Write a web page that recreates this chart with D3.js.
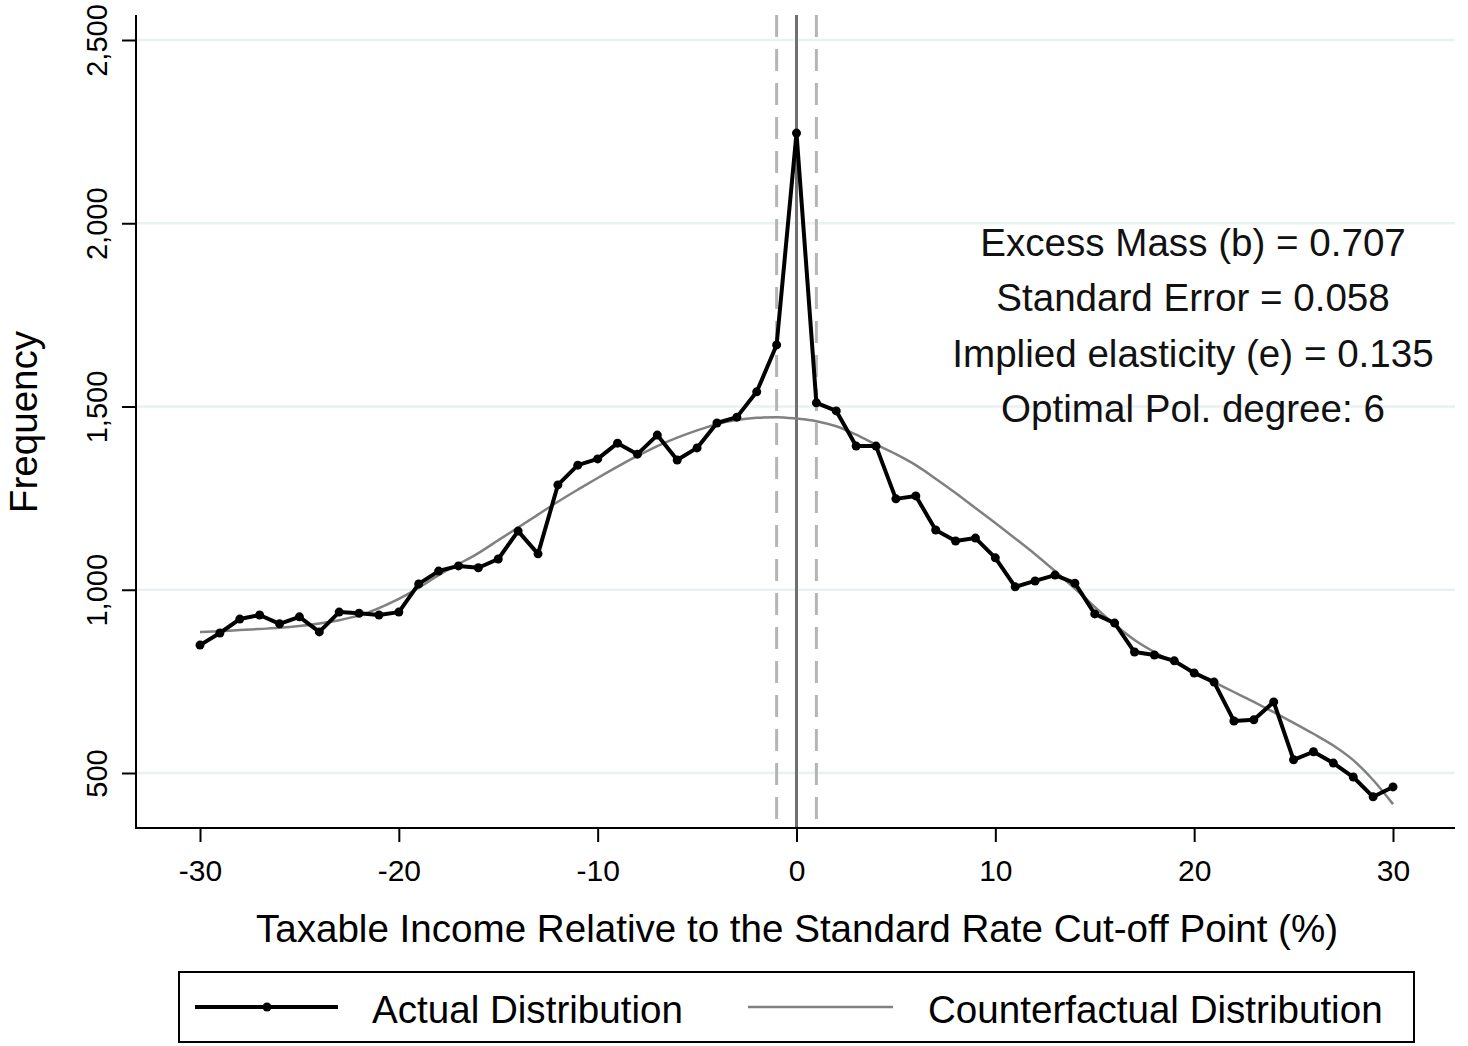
<!DOCTYPE html>
<html>
<head>
<meta charset="utf-8">
<script src="https://cdn.jsdelivr.net/npm/d3@7"></script>
<style>
	body { margin: 0; background: #fff; }
	svg { display: block; font-family: 'Liberation Sans', Arial, sans-serif; }
</style>
</head>
<body>
<svg width="1468" height="1046"></svg>
<script>
// bins, % distance from the standard rate cut-off point
let bins = [-30, -29, -28, -27, -26, -25, -24, -23, -22, -21, -20, -19, -18, -17, -16, -15,
	-14, -13, -12, -11, -10, -9, -8, -7, -6, -5, -4, -3, -2, -1, 0, 1, 2, 3, 4, 5, 6, 7, 8, 9,
	10, 11, 12, 13, 14, 15, 16, 17, 18, 19, 20, 21, 22, 23, 24, 25, 26, 27, 28, 29, 30]

let actual = [849, 882, 920, 931, 907, 926, 885, 939, 936, 931, 939, 1016, 1051, 1065, 1060, 1084,
	1160, 1098, 1286, 1340, 1357, 1400, 1370, 1422, 1354, 1387, 1455, 1471, 1540, 1668, 2246,
	1510, 1488, 1392, 1392, 1248, 1256, 1163, 1133, 1141, 1087, 1008, 1024, 1040, 1018, 934,
	909, 830, 822, 806, 773, 748, 642, 645, 694, 536, 558, 527, 489, 435, 462]

let counterfactual = [885, 887, 890, 893, 896, 901, 908, 917, 930, 950, 975, 1005, 1040, 1070, 1100, 1135,
	1170, 1205, 1240, 1273, 1305, 1336, 1365, 1392, 1415, 1435, 1452, 1463, 1469, 1471, 1467,
	1460, 1446, 1423, 1396, 1370, 1340, 1303, 1264, 1223, 1182, 1140, 1097, 1051, 1003, 953,
	905, 863, 830, 802, 776, 748, 721, 694, 666, 637, 607, 575, 535, 481, 415]

let xTicks = [-30, -20, -10, 0, 10, 20, 30]
let yTicks = [500, 1000, 1500, 2000, 2500]
let bandLines = [-1, 1]
let notes = ['Excess Mass (b) = 0.707', 'Standard Error = 0.058',
	'Implied elasticity (e) = 0.135', 'Optimal Pol. degree: 6']
let legendLabels = ['Actual Distribution', 'Counterfactual Distribution']

let plot = { left: 136, right: 1455, top: 15, bottom: 828 }
let bigFont = 38.6

let svg = d3.select('svg')
let x = d3.scaleLinear().domain([-30, 30]).range([200, 1393])
let y = d3.scaleLinear().domain([500, 2500]).range([773, 40])

// grid
svg.append('g')
	.selectAll('line')
	.data(yTicks)
	.join('line')
	.attr('x1', plot.left)
	.attr('x2', plot.right)
	.attr('y1', d => y(d))
	.attr('y2', d => y(d))
	.attr('stroke', '#e9f1f2')
	.attr('stroke-width', 2.5)

// cut-off and excluded band
svg.append('line')
	.attr('x1', x(0)).attr('x2', x(0))
	.attr('y1', plot.top).attr('y2', plot.bottom)
	.attr('stroke', '#707070')
	.attr('stroke-width', 3)

svg.append('g')
	.selectAll('line')
	.data(bandLines)
	.join('line')
	.attr('x1', d => x(d))
	.attr('x2', d => x(d))
	.attr('y1', plot.top)
	.attr('y2', plot.bottom)
	.attr('stroke', '#b5b5b5')
	.attr('stroke-width', 3)
	.attr('stroke-dasharray', '22,12')

let rows = bins.map((b, i) => ({ b: b, a: actual[i], c: counterfactual[i] }))

svg.append('path')
	.datum(rows)
	.attr('fill', 'none')
	.attr('stroke', '#808080')
	.attr('stroke-width', 2.5)
	.attr('d', d3.line().x(d => x(d.b)).y(d => y(d.c)).curve(d3.curveMonotoneX))

svg.append('path')
	.datum(rows)
	.attr('fill', 'none')
	.attr('stroke', '#000')
	.attr('stroke-width', 4)
	.attr('stroke-linejoin', 'round')
	.attr('d', d3.line().x(d => x(d.b)).y(d => y(d.a)))

svg.append('g')
	.selectAll('circle')
	.data(rows)
	.join('circle')
	.attr('cx', d => x(d.b))
	.attr('cy', d => y(d.a))
	.attr('r', 4.5)
	.attr('fill', '#000')

// axes
let xAxis = svg.append('g')
	.attr('transform', 'translate(0,' + plot.bottom + ')')
	.call(d3.axisBottom(x).tickValues(xTicks).tickSize(14).tickPadding(18).tickFormat(d => String(d)))
xAxis.select('.domain').remove()
xAxis.selectAll('line').attr('stroke-width', 2)
xAxis.selectAll('text').attr('font-size', 30).attr('fill', '#000')
	.style('font-family', "'Liberation Sans', Arial, sans-serif")

let yAxis = svg.append('g')
	.attr('transform', 'translate(' + plot.left + ',0)')
	.call(d3.axisLeft(y).tickValues(yTicks).tickSize(14).tickFormat(d3.format(',')))
yAxis.select('.domain').remove()
yAxis.selectAll('line').attr('stroke-width', 2)
yAxis.selectAll('text')
	.attr('transform', 'rotate(-90)')
	.attr('x', 0)
	.attr('y', -29)
	.attr('dy', 0)
	.attr('text-anchor', 'middle')
	.attr('font-size', 29)
	.attr('fill', '#000')
	.style('font-family', "'Liberation Sans', Arial, sans-serif")

svg.append('path')
	.attr('d', 'M' + plot.left + ',' + plot.top + 'V' + plot.bottom + 'H' + plot.right)
	.attr('fill', 'none')
	.attr('stroke', '#000')
	.attr('stroke-width', 2)

svg.append('text')
	.attr('x', 797)
	.attr('y', 942)
	.attr('text-anchor', 'middle')
	.attr('font-size', bigFont)
	.text('Taxable Income Relative to the Standard Rate Cut-off Point (%)')

svg.append('text')
	.attr('transform', 'translate(37,422) rotate(-90)')
	.attr('text-anchor', 'middle')
	.attr('font-size', bigFont)
	.text('Frequency')

// bunching estimates
svg.append('g')
	.selectAll('text')
	.data(notes)
	.join('text')
	.attr('x', 1193)
	.attr('y', (d, i) => 256 + i * 55.3)
	.attr('text-anchor', 'middle')
	.attr('font-size', bigFont)
	.attr('fill', '#111')
	.text(d => d)

// legend
let legend = svg.append('g')
legend.append('rect')
	.attr('x', 179).attr('y', 972)
	.attr('width', 1235).attr('height', 70)
	.attr('fill', 'none')
	.attr('stroke', '#000')
	.attr('stroke-width', 2)
legend.append('line')
	.attr('x1', 195).attr('x2', 338)
	.attr('y1', 1007).attr('y2', 1007)
	.attr('stroke', '#000').attr('stroke-width', 4)
legend.append('circle')
	.attr('cx', 267).attr('cy', 1007).attr('r', 4.5)
	.attr('fill', '#000')
legend.append('line')
	.attr('x1', 748).attr('x2', 893)
	.attr('y1', 1007).attr('y2', 1007)
	.attr('stroke', '#808080').attr('stroke-width', 2.5)
legend.selectAll('text')
	.data(legendLabels)
	.join('text')
	.attr('x', (d, i) => i == 0 ? 372 : 928)
	.attr('y', 1023)
	.attr('font-size', bigFont)
	.text(d => d)
</script>
</body>
</html>
